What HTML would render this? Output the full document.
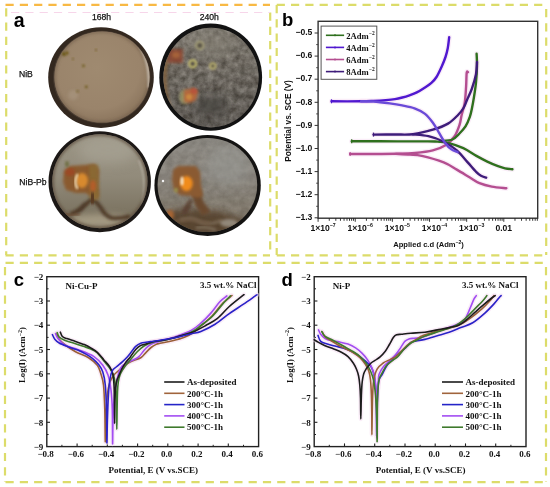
<!DOCTYPE html><html><head><meta charset="utf-8"><style>html,body{margin:0;padding:0;background:#fff;}svg{display:block;filter:blur(0.35px);}</style></head><body>
<svg width="550" height="487" viewBox="0 0 550 487">
<defs>
<filter id="blur1" x="-20%" y="-20%" width="140%" height="140%"><feGaussianBlur stdDeviation="1.2"/></filter>
<filter id="blur2" x="-30%" y="-30%" width="160%" height="160%"><feGaussianBlur stdDeviation="2.5"/></filter>
<filter id="blur05"><feGaussianBlur stdDeviation="0.45"/></filter>
<radialGradient id="g1" cx="50%" cy="45%" r="55%"><stop offset="0" stop-color="#9c8a70"/><stop offset="0.8" stop-color="#96826a"/><stop offset="1" stop-color="#7a6a56"/></radialGradient>
<radialGradient id="g2" cx="50%" cy="50%" r="55%"><stop offset="0" stop-color="#77716a"/><stop offset="0.8" stop-color="#6e6862"/><stop offset="1" stop-color="#55504a"/></radialGradient>
<radialGradient id="g3" cx="50%" cy="40%" r="55%"><stop offset="0" stop-color="#9a978c"/><stop offset="0.75" stop-color="#8e8a7e"/><stop offset="1" stop-color="#6e6a60"/></radialGradient>
<radialGradient id="g4" cx="55%" cy="40%" r="55%"><stop offset="0" stop-color="#9a9a94"/><stop offset="0.75" stop-color="#8a8a84"/><stop offset="1" stop-color="#6a6a64"/></radialGradient>
</defs>
<rect width="550" height="487" fill="#fff"/>
<line x1="5.5" y1="4.8" x2="270.0" y2="4.8" stroke="#f8b944" stroke-width="2.2" stroke-dasharray="8.2 6.1" stroke-dashoffset="0"/>
<line x1="6.2" y1="8.2" x2="6.2" y2="255.0" stroke="#dcdc6a" stroke-width="2.2" stroke-dasharray="8.2 6.1" stroke-dashoffset="0"/>
<line x1="270.2" y1="12.5" x2="270.2" y2="255.0" stroke="#dcdc6a" stroke-width="2.2" stroke-dasharray="8.2 6.1" stroke-dashoffset="0"/>
<line x1="5.5" y1="255.3" x2="270.0" y2="255.3" stroke="#dcdc6a" stroke-width="2.2" stroke-dasharray="8.2 6.1" stroke-dashoffset="0"/>
<line x1="276.7" y1="4.8" x2="546.0" y2="4.8" stroke="#dcdc6a" stroke-width="2.2" stroke-dasharray="8.2 6.1" stroke-dashoffset="0"/>
<line x1="276.7" y1="5.0" x2="276.7" y2="255.0" stroke="#dcdc6a" stroke-width="2.2" stroke-dasharray="8.2 6.1" stroke-dashoffset="0"/>
<line x1="546.2" y1="9.0" x2="546.2" y2="255.0" stroke="#dcdc6a" stroke-width="2.2" stroke-dasharray="8.2 6.1" stroke-dashoffset="0"/>
<line x1="276.7" y1="255.3" x2="546.0" y2="255.3" stroke="#dcdc6a" stroke-width="2.2" stroke-dasharray="8.2 6.1" stroke-dashoffset="0"/>
<line x1="5.5" y1="262.9" x2="546.0" y2="262.9" stroke="#dcdc6a" stroke-width="2.2" stroke-dasharray="8.2 6.1" stroke-dashoffset="0"/>
<line x1="5.0" y1="267.0" x2="5.0" y2="482.0" stroke="#dcdc6a" stroke-width="2.2" stroke-dasharray="8.2 6.1" stroke-dashoffset="0"/>
<line x1="546.0" y1="267.0" x2="546.0" y2="482.0" stroke="#dcdc6a" stroke-width="2.2" stroke-dasharray="8.2 6.1" stroke-dashoffset="0"/>
<line x1="5.5" y1="482.2" x2="546.0" y2="482.2" stroke="#dcdc6a" stroke-width="2.2" stroke-dasharray="8.2 6.1" stroke-dashoffset="0"/>
<line x1="11.0" y1="12.5" x2="270.0" y2="12.5" stroke="#f7d6ea" stroke-width="1.2" stroke-dasharray="8.2 6.1" stroke-dashoffset="0"/>
<text x="13.8" y="27.0" font-family='"Liberation Sans", sans-serif' font-size="19.50" font-weight="bold" text-anchor="start" fill="#000" >a</text>
<text x="101.5" y="20.4" font-family='"Liberation Sans", sans-serif' font-size="8.60" font-weight="normal" text-anchor="middle" fill="#111" stroke="#111" stroke-width="0.25">168h</text>
<text x="209.2" y="20.2" font-family='"Liberation Sans", sans-serif' font-size="8.60" font-weight="normal" text-anchor="middle" fill="#111" stroke="#111" stroke-width="0.25">240h</text>
<text x="19.0" y="76.7" font-family='"Liberation Sans", sans-serif' font-size="8.60" font-weight="normal" text-anchor="start" fill="#111" stroke="#111" stroke-width="0.25">NiB</text>
<text x="19.3" y="184.5" font-family='"Liberation Sans", sans-serif' font-size="8.60" font-weight="normal" text-anchor="start" fill="#111" stroke="#111" stroke-width="0.25">NiB-Pb</text>
<defs>
<clipPath id="cp1"><ellipse cx="102.0" cy="77.0" rx="47.6" ry="45.6"/></clipPath>
<clipPath id="cp2"><ellipse cx="211.0" cy="77.6" rx="47.6" ry="49.8"/></clipPath>
<clipPath id="cp3"><ellipse cx="99.9" cy="181.2" rx="47.6" ry="47.0"/></clipPath>
<clipPath id="cp4"><ellipse cx="207.4" cy="185.0" rx="49.8" ry="47.0"/></clipPath>
<filter id="noise2" x="0" y="0" width="100%" height="100%" color-interpolation-filters="sRGB"><feTurbulence type="fractalNoise" baseFrequency="0.15" numOctaves="4" seed="11" result="n"/><feColorMatrix in="n" type="matrix" values="0.75 0 0 0 0.07  0.75 0 0 0 0.05  0.75 0 0 0 0.03  0 0 0 0 1"/></filter>
<filter id="bl08" x="-50%" y="-50%" width="200%" height="200%"><feGaussianBlur stdDeviation="0.8"/></filter>
<filter id="bl15" x="-50%" y="-50%" width="200%" height="200%"><feGaussianBlur stdDeviation="1.5"/></filter>
<filter id="bl3" x="-50%" y="-50%" width="200%" height="200%"><feGaussianBlur stdDeviation="3"/></filter>
<filter id="bl6" x="-50%" y="-50%" width="200%" height="200%"><feGaussianBlur stdDeviation="6"/></filter>
<radialGradient id="pg1" cx="45%" cy="40%" r="60%"><stop offset="0" stop-color="#9f8a70"/><stop offset="0.75" stop-color="#9a846b"/><stop offset="1" stop-color="#8c765e"/></radialGradient>
<linearGradient id="pg2" x1="0" y1="0" x2="0.15" y2="1"><stop offset="0" stop-color="#827d71"/><stop offset="0.5" stop-color="#6c675d"/><stop offset="1" stop-color="#55514b"/></linearGradient>
<linearGradient id="pg3" x1="0" y1="0" x2="0" y2="1"><stop offset="0" stop-color="#9c9686"/><stop offset="0.45" stop-color="#928b7b"/><stop offset="0.8" stop-color="#7e7664"/><stop offset="1" stop-color="#6e6452"/></linearGradient>
<linearGradient id="pg4" x1="0" y1="0" x2="0" y2="1"><stop offset="0" stop-color="#8e8b84"/><stop offset="0.4" stop-color="#8c8880"/><stop offset="0.75" stop-color="#857d70"/><stop offset="1" stop-color="#6e6456"/></linearGradient>
</defs>
<ellipse cx="101.0" cy="77.6" rx="52.8" ry="50.3" fill="#33281f"/>
<ellipse cx="101.8" cy="77.2" rx="48.6" ry="46.4" fill="#4a3d32"/>
<ellipse cx="102.0" cy="77.0" rx="47.6" ry="45.6" fill="url(#pg1)"/>
<g clip-path="url(#cp1)">
<ellipse cx="102.0" cy="77.0" rx="47.6" ry="45.6" fill="none" stroke="#6e5c48" stroke-width="2.5" filter="url(#bl15)" opacity="0.7"/>
<path d="M137,42 Q150,58 149,88" stroke="#d8d0c4" stroke-width="2.4" fill="none" filter="url(#bl08)" opacity="0.85"/>
<ellipse cx="73.2" cy="95" rx="5" ry="5" fill="#aa9882" filter="url(#bl15)" opacity="0.6"/>
<circle cx="64" cy="54" r="2.2" fill="#6e5a1e" filter="url(#bl08)"/>
<circle cx="67" cy="53" r="1.8" fill="#6e5a1e" filter="url(#bl08)"/>
<circle cx="83.4" cy="65.8" r="1.4" fill="#6e5a1e" filter="url(#bl08)"/>
<circle cx="86.3" cy="86.9" r="1.4" fill="#6e5a1e" filter="url(#bl08)"/>
<circle cx="96" cy="50" r="1" fill="#6e5a1e" filter="url(#bl08)"/>
<circle cx="77.5" cy="91.3" r="1.1" fill="#6e5a1e" filter="url(#bl08)"/>
<circle cx="73" cy="59" r="0.9" fill="#6e5a1e" filter="url(#bl08)"/>
</g>
<ellipse cx="210.7" cy="77.2" rx="51.4" ry="53.6" fill="#121212"/>
<ellipse cx="211.0" cy="77.6" rx="47.6" ry="49.8" fill="url(#pg2)"/>
<g clip-path="url(#cp2)">
<rect x="160" y="26" width="104" height="104" filter="url(#noise2)" opacity="0.45"/>
<path d="M167,58 Q160,85 171,113" stroke="#7e5e3a" stroke-width="4.5" fill="none" filter="url(#bl15)" opacity="0.9"/>
<ellipse cx="210" cy="106" rx="17" ry="11" fill="#47443f" filter="url(#bl6)" opacity="0.8"/>
<ellipse cx="212" cy="44" rx="24" ry="11" fill="#8c877c" filter="url(#bl6)" opacity="0.6"/>
<rect x="168" y="49" width="15" height="14" fill="#8a4630" filter="url(#bl15)" opacity="0.9"/>
<ellipse cx="176" cy="55" rx="4" ry="3" fill="#b06a3a" filter="url(#bl15)" opacity="0.8"/>
<circle cx="192.7" cy="63.8" r="3.6" fill="#5e584c" stroke="#c8c070" stroke-width="1.8" filter="url(#bl08)"/>
<circle cx="199.8" cy="45.5" r="3.8" fill="#5e584c" stroke="#a8a27a" stroke-width="1.8" filter="url(#bl08)"/>
<circle cx="212.8" cy="66" r="2.8" fill="#5e584c" stroke="#bab070" stroke-width="1.8" filter="url(#bl08)"/>
<ellipse cx="184.5" cy="97" rx="5" ry="7" fill="#9c9a62" filter="url(#bl15)" opacity="0.8"/>
<path d="M184,90 L194,88 L198,92 L196,100 L190,103 L184,102 Z" fill="#b4683c" filter="url(#bl15)"/>
<ellipse cx="194" cy="91" rx="3.5" ry="2.8" fill="#b8503a" filter="url(#bl08)" opacity="0.8"/>
<ellipse cx="189" cy="97" rx="3" ry="3" fill="#d09040" filter="url(#bl08)" opacity="0.8"/>
</g>
<ellipse cx="99.7" cy="181.7" rx="51.2" ry="50.5" fill="#1c1816"/>
<ellipse cx="99.9" cy="181.2" rx="47.6" ry="47.0" fill="url(#pg3)"/>
<g clip-path="url(#cp3)">
<ellipse cx="108" cy="150" rx="30" ry="14" fill="#aaa698" filter="url(#bl6)" opacity="0.6"/>
<path d="M139,160 Q148,180 142,205" stroke="#d0cabe" stroke-width="1.8" fill="none" filter="url(#bl08)" opacity="0.6"/>
<ellipse cx="100" cy="221" rx="40" ry="7" fill="#aea48c" filter="url(#bl3)" opacity="0.8"/>
<ellipse cx="99.9" cy="181.2" rx="47.6" ry="47.0" fill="none" stroke="#5a4a3a" stroke-width="3" filter="url(#bl15)" opacity="0.8"/>
<path d="M70,214 Q76,212 80,210 Q86,204 92,199 Q98,203 101,208 Q105,216 112,218 Q120,219 130,216" stroke="#4a3424" stroke-width="4" fill="none" filter="url(#bl15)" opacity="0.9"/>
<path d="M62,214 Q70,216 80,214" stroke="#6a4a30" stroke-width="3" fill="none" filter="url(#bl15)" opacity="0.7"/>
<path d="M64,171 L70,166 L84,165 L95,164 L99,170 L98,185 L99,195 L96,199 L90,196 L86,193 L76,193 L66,190 L63,182 Z" fill="#8a5a2e" filter="url(#bl15)"/>
<ellipse cx="70" cy="172" rx="5" ry="4" fill="#a04424" filter="url(#bl15)" opacity="0.8"/>
<path d="M89,165 L98,165 L99,200 L90,199 Z" fill="#8a6a34" filter="url(#bl15)" opacity="0.9"/>
<ellipse cx="93" cy="186" rx="3" ry="6" fill="#c05a28" filter="url(#bl15)" opacity="0.8"/>
<ellipse cx="82" cy="180.5" rx="6" ry="7.5" fill="#d88a2e" filter="url(#bl15)"/>
<path d="M77.5,174 Q73.5,182 77.5,189" stroke="#f2dcb4" stroke-width="2.2" fill="none" filter="url(#bl08)"/>
<ellipse cx="67" cy="164" rx="2" ry="3" fill="#6a6a3a" filter="url(#bl08)" opacity="0.8"/>
<path d="M93,193 Q92,199 92,204" stroke="#5a3a22" stroke-width="7" fill="none" filter="url(#bl15)"/>
<path d="M86,203 Q80,208 76,212" stroke="#4a3424" stroke-width="3" fill="none" filter="url(#bl15)" opacity="0.6"/>
</g>
<ellipse cx="207.6" cy="185.4" rx="53.2" ry="50.5" fill="#141312"/>
<ellipse cx="207.4" cy="185.0" rx="49.8" ry="47.0" fill="url(#pg4)"/>
<g clip-path="url(#cp4)">
<rect x="156" y="136" width="104" height="100" filter="url(#noise2)" opacity="0.15"/>
<ellipse cx="228" cy="165" rx="22" ry="20" fill="#9c9e9a" filter="url(#bl6)" opacity="0.5"/>
<path d="M164,214 Q176,207 188,211 Q198,206 206,212 Q216,208 226,214 Q236,216 246,222 L240,236 L166,236 Z" fill="#54402c" filter="url(#bl3)" opacity="0.85"/>
<path d="M180,220 Q192,216 200,222 Q210,226 222,220" stroke="#8a7a66" stroke-width="3" fill="none" filter="url(#bl15)" opacity="0.7"/>
<path d="M196,228 Q206,226 216,230" stroke="#9a8e7c" stroke-width="2.5" fill="none" filter="url(#bl15)" opacity="0.6"/>
<path d="M172,222 Q190,217 210,224" stroke="#6e5640" stroke-width="3" fill="none" filter="url(#bl15)" opacity="0.8"/>
<ellipse cx="170" cy="215" rx="4" ry="5" fill="#b86a30" filter="url(#bl15)" opacity="0.8"/>
<ellipse cx="229" cy="223" rx="9" ry="4" fill="#aaa49a" filter="url(#bl15)" opacity="0.7"/>
<path d="M196,190 Q197,200 201,206 Q205,211 206,214" stroke="#6a4a2e" stroke-width="9" fill="none" filter="url(#bl15)"/>
<path d="M192,200 Q186,206 184,213" stroke="#5a4030" stroke-width="5" fill="none" filter="url(#bl15)" opacity="0.8"/>
<path d="M190,205 Q186,210 184,214" stroke="#5a4030" stroke-width="4" fill="none" filter="url(#bl15)" opacity="0.8"/>
<path d="M173,170 L178,166 L196,166 L200,172 L201,185 L203,196 L198,198 L190,196 L180,195 L174,190 L172,180 Z" fill="#8a5a30" filter="url(#bl15)"/>
<ellipse cx="186.5" cy="183.5" rx="6.2" ry="7.5" fill="#f08c1e" filter="url(#bl15)"/>
<ellipse cx="182" cy="181" rx="1.5" ry="4.5" fill="#f6e8d0" filter="url(#bl08)"/>
<ellipse cx="176" cy="190" rx="2" ry="2.5" fill="#9a9a50" filter="url(#bl08)" opacity="0.8"/>
<circle cx="163" cy="181" r="1.2" fill="#f4f4f4"/>
</g>
<text x="282.0" y="26.0" font-family='"Liberation Sans", sans-serif' font-size="18.50" font-weight="bold" text-anchor="start" fill="#000" >b</text>
<rect x="318.10" y="21.30" width="219.60" height="196.90" fill="none" stroke="#333" stroke-width="1.40"/>
<line x1="314.6" y1="33.0" x2="318.1" y2="33.0" stroke="#333" stroke-width="1"/>
<line x1="316.1" y1="44.6" x2="318.1" y2="44.6" stroke="#333" stroke-width="0.8"/>
<text x="312.4" y="35.2" font-family='"Liberation Sans", sans-serif' font-size="8.60" font-weight="bold" text-anchor="end" fill="#111" >&#8722;0.5</text>
<line x1="314.6" y1="56.1" x2="318.1" y2="56.1" stroke="#333" stroke-width="1"/>
<line x1="316.1" y1="67.7" x2="318.1" y2="67.7" stroke="#333" stroke-width="0.8"/>
<text x="312.4" y="58.3" font-family='"Liberation Sans", sans-serif' font-size="8.60" font-weight="bold" text-anchor="end" fill="#111" >&#8722;0.6</text>
<line x1="314.6" y1="79.2" x2="318.1" y2="79.2" stroke="#333" stroke-width="1"/>
<line x1="316.1" y1="90.8" x2="318.1" y2="90.8" stroke="#333" stroke-width="0.8"/>
<text x="312.4" y="81.4" font-family='"Liberation Sans", sans-serif' font-size="8.60" font-weight="bold" text-anchor="end" fill="#111" >&#8722;0.7</text>
<line x1="314.6" y1="102.3" x2="318.1" y2="102.3" stroke="#333" stroke-width="1"/>
<line x1="316.1" y1="113.9" x2="318.1" y2="113.9" stroke="#333" stroke-width="0.8"/>
<text x="312.4" y="104.5" font-family='"Liberation Sans", sans-serif' font-size="8.60" font-weight="bold" text-anchor="end" fill="#111" >&#8722;0.8</text>
<line x1="314.6" y1="125.4" x2="318.1" y2="125.4" stroke="#333" stroke-width="1"/>
<line x1="316.1" y1="136.9" x2="318.1" y2="136.9" stroke="#333" stroke-width="0.8"/>
<text x="312.4" y="127.6" font-family='"Liberation Sans", sans-serif' font-size="8.60" font-weight="bold" text-anchor="end" fill="#111" >&#8722;0.9</text>
<line x1="314.6" y1="148.5" x2="318.1" y2="148.5" stroke="#333" stroke-width="1"/>
<line x1="316.1" y1="160.1" x2="318.1" y2="160.1" stroke="#333" stroke-width="0.8"/>
<text x="312.4" y="150.7" font-family='"Liberation Sans", sans-serif' font-size="8.60" font-weight="bold" text-anchor="end" fill="#111" >&#8722;1.0</text>
<line x1="314.6" y1="171.6" x2="318.1" y2="171.6" stroke="#333" stroke-width="1"/>
<line x1="316.1" y1="183.2" x2="318.1" y2="183.2" stroke="#333" stroke-width="0.8"/>
<text x="312.4" y="173.8" font-family='"Liberation Sans", sans-serif' font-size="8.60" font-weight="bold" text-anchor="end" fill="#111" >&#8722;1.1</text>
<line x1="314.6" y1="194.7" x2="318.1" y2="194.7" stroke="#333" stroke-width="1"/>
<line x1="316.1" y1="206.3" x2="318.1" y2="206.3" stroke="#333" stroke-width="0.8"/>
<text x="312.4" y="196.9" font-family='"Liberation Sans", sans-serif' font-size="8.60" font-weight="bold" text-anchor="end" fill="#111" >&#8722;1.2</text>
<line x1="314.6" y1="217.8" x2="318.1" y2="217.8" stroke="#333" stroke-width="1"/>
<text x="312.4" y="220.0" font-family='"Liberation Sans", sans-serif' font-size="8.60" font-weight="bold" text-anchor="end" fill="#111" >&#8722;1.3</text>
<line x1="318.10" y1="218.2" x2="318.10" y2="221.8" stroke="#222" stroke-width="0.9"/>
<line x1="329.28" y1="218.2" x2="329.28" y2="220.8" stroke="#222" stroke-width="0.9"/>
<line x1="335.82" y1="218.2" x2="335.82" y2="220.8" stroke="#222" stroke-width="0.9"/>
<line x1="340.46" y1="218.2" x2="340.46" y2="220.8" stroke="#222" stroke-width="0.9"/>
<line x1="344.06" y1="218.2" x2="344.06" y2="220.8" stroke="#222" stroke-width="0.9"/>
<line x1="347.00" y1="218.2" x2="347.00" y2="220.8" stroke="#222" stroke-width="0.9"/>
<line x1="349.49" y1="218.2" x2="349.49" y2="220.8" stroke="#222" stroke-width="0.9"/>
<line x1="351.64" y1="218.2" x2="351.64" y2="220.8" stroke="#222" stroke-width="0.9"/>
<line x1="353.54" y1="218.2" x2="353.54" y2="220.8" stroke="#222" stroke-width="0.9"/>
<line x1="355.24" y1="218.2" x2="355.24" y2="221.8" stroke="#222" stroke-width="0.9"/>
<line x1="366.42" y1="218.2" x2="366.42" y2="220.8" stroke="#222" stroke-width="0.9"/>
<line x1="372.96" y1="218.2" x2="372.96" y2="220.8" stroke="#222" stroke-width="0.9"/>
<line x1="377.60" y1="218.2" x2="377.60" y2="220.8" stroke="#222" stroke-width="0.9"/>
<line x1="381.20" y1="218.2" x2="381.20" y2="220.8" stroke="#222" stroke-width="0.9"/>
<line x1="384.14" y1="218.2" x2="384.14" y2="220.8" stroke="#222" stroke-width="0.9"/>
<line x1="386.63" y1="218.2" x2="386.63" y2="220.8" stroke="#222" stroke-width="0.9"/>
<line x1="388.78" y1="218.2" x2="388.78" y2="220.8" stroke="#222" stroke-width="0.9"/>
<line x1="390.68" y1="218.2" x2="390.68" y2="220.8" stroke="#222" stroke-width="0.9"/>
<line x1="392.38" y1="218.2" x2="392.38" y2="221.8" stroke="#222" stroke-width="0.9"/>
<line x1="403.56" y1="218.2" x2="403.56" y2="220.8" stroke="#222" stroke-width="0.9"/>
<line x1="410.10" y1="218.2" x2="410.10" y2="220.8" stroke="#222" stroke-width="0.9"/>
<line x1="414.74" y1="218.2" x2="414.74" y2="220.8" stroke="#222" stroke-width="0.9"/>
<line x1="418.34" y1="218.2" x2="418.34" y2="220.8" stroke="#222" stroke-width="0.9"/>
<line x1="421.28" y1="218.2" x2="421.28" y2="220.8" stroke="#222" stroke-width="0.9"/>
<line x1="423.77" y1="218.2" x2="423.77" y2="220.8" stroke="#222" stroke-width="0.9"/>
<line x1="425.92" y1="218.2" x2="425.92" y2="220.8" stroke="#222" stroke-width="0.9"/>
<line x1="427.82" y1="218.2" x2="427.82" y2="220.8" stroke="#222" stroke-width="0.9"/>
<line x1="429.52" y1="218.2" x2="429.52" y2="221.8" stroke="#222" stroke-width="0.9"/>
<line x1="440.70" y1="218.2" x2="440.70" y2="220.8" stroke="#222" stroke-width="0.9"/>
<line x1="447.24" y1="218.2" x2="447.24" y2="220.8" stroke="#222" stroke-width="0.9"/>
<line x1="451.88" y1="218.2" x2="451.88" y2="220.8" stroke="#222" stroke-width="0.9"/>
<line x1="455.48" y1="218.2" x2="455.48" y2="220.8" stroke="#222" stroke-width="0.9"/>
<line x1="458.42" y1="218.2" x2="458.42" y2="220.8" stroke="#222" stroke-width="0.9"/>
<line x1="460.91" y1="218.2" x2="460.91" y2="220.8" stroke="#222" stroke-width="0.9"/>
<line x1="463.06" y1="218.2" x2="463.06" y2="220.8" stroke="#222" stroke-width="0.9"/>
<line x1="464.96" y1="218.2" x2="464.96" y2="220.8" stroke="#222" stroke-width="0.9"/>
<line x1="466.66" y1="218.2" x2="466.66" y2="221.8" stroke="#222" stroke-width="0.9"/>
<line x1="477.84" y1="218.2" x2="477.84" y2="220.8" stroke="#222" stroke-width="0.9"/>
<line x1="484.38" y1="218.2" x2="484.38" y2="220.8" stroke="#222" stroke-width="0.9"/>
<line x1="489.02" y1="218.2" x2="489.02" y2="220.8" stroke="#222" stroke-width="0.9"/>
<line x1="492.62" y1="218.2" x2="492.62" y2="220.8" stroke="#222" stroke-width="0.9"/>
<line x1="495.56" y1="218.2" x2="495.56" y2="220.8" stroke="#222" stroke-width="0.9"/>
<line x1="498.05" y1="218.2" x2="498.05" y2="220.8" stroke="#222" stroke-width="0.9"/>
<line x1="500.20" y1="218.2" x2="500.20" y2="220.8" stroke="#222" stroke-width="0.9"/>
<line x1="502.10" y1="218.2" x2="502.10" y2="220.8" stroke="#222" stroke-width="0.9"/>
<line x1="503.80" y1="218.2" x2="503.80" y2="221.8" stroke="#222" stroke-width="0.9"/>
<line x1="514.98" y1="218.2" x2="514.98" y2="220.8" stroke="#222" stroke-width="0.9"/>
<line x1="521.52" y1="218.2" x2="521.52" y2="220.8" stroke="#222" stroke-width="0.9"/>
<line x1="526.16" y1="218.2" x2="526.16" y2="220.8" stroke="#222" stroke-width="0.9"/>
<line x1="529.76" y1="218.2" x2="529.76" y2="220.8" stroke="#222" stroke-width="0.9"/>
<line x1="532.70" y1="218.2" x2="532.70" y2="220.8" stroke="#222" stroke-width="0.9"/>
<line x1="535.19" y1="218.2" x2="535.19" y2="220.8" stroke="#222" stroke-width="0.9"/>
<line x1="537.34" y1="218.2" x2="537.34" y2="220.8" stroke="#222" stroke-width="0.9"/>
<text x="310.4" y="230.8" font-family='"Liberation Sans", sans-serif' font-size="8.6" font-weight="bold" fill="#111">1&#215;10<tspan dy="-3.6" font-size="5.2">&#8722;7</tspan></text>
<text x="347.5" y="230.8" font-family='"Liberation Sans", sans-serif' font-size="8.6" font-weight="bold" fill="#111">1&#215;10<tspan dy="-3.6" font-size="5.2">&#8722;6</tspan></text>
<text x="384.7" y="230.8" font-family='"Liberation Sans", sans-serif' font-size="8.6" font-weight="bold" fill="#111">1&#215;10<tspan dy="-3.6" font-size="5.2">&#8722;5</tspan></text>
<text x="421.8" y="230.8" font-family='"Liberation Sans", sans-serif' font-size="8.6" font-weight="bold" fill="#111">1&#215;10<tspan dy="-3.6" font-size="5.2">&#8722;4</tspan></text>
<text x="459.0" y="230.8" font-family='"Liberation Sans", sans-serif' font-size="8.6" font-weight="bold" fill="#111">1&#215;10<tspan dy="-3.6" font-size="5.2">&#8722;3</tspan></text>
<text x="503.8" y="230.6" font-family='"Liberation Sans", sans-serif' font-size="8.60" font-weight="bold" text-anchor="middle" fill="#111" >0.01</text>
<text x="393.2" y="246.8" font-family='"Liberation Sans", sans-serif' font-size="7.6" font-weight="bold" fill="#111">Applied c.d (Adm<tspan dy="-3.3" font-size="5">&#8722;2</tspan><tspan dy="3.3">)</tspan></text>
<text transform="translate(291.3,121) rotate(-90)" font-family='"Liberation Sans", sans-serif' font-size="8.3" font-weight="bold" text-anchor="middle" fill="#111">Potential vs. SCE (V)</text>
<rect x="46.80" y="276.70" width="211.80" height="169.90" fill="none" stroke="#222" stroke-width="1.40"/>
<line x1="46.8" y1="288.8" x2="48.6" y2="288.8" stroke="#222" stroke-width="1"/>
<text x="43.3" y="279.9" font-family='"Liberation Serif", serif' font-size="9.00" font-weight="bold" text-anchor="end" fill="#111" >&#8722;2</text>
<line x1="46.8" y1="301.0" x2="50.0" y2="301.0" stroke="#222" stroke-width="1.1"/>
<line x1="46.8" y1="313.1" x2="48.6" y2="313.1" stroke="#222" stroke-width="1"/>
<text x="43.3" y="304.2" font-family='"Liberation Serif", serif' font-size="9.00" font-weight="bold" text-anchor="end" fill="#111" >&#8722;3</text>
<line x1="46.8" y1="325.2" x2="50.0" y2="325.2" stroke="#222" stroke-width="1.1"/>
<line x1="46.8" y1="337.4" x2="48.6" y2="337.4" stroke="#222" stroke-width="1"/>
<text x="43.3" y="328.4" font-family='"Liberation Serif", serif' font-size="9.00" font-weight="bold" text-anchor="end" fill="#111" >&#8722;4</text>
<line x1="46.8" y1="349.5" x2="50.0" y2="349.5" stroke="#222" stroke-width="1.1"/>
<line x1="46.8" y1="361.7" x2="48.6" y2="361.7" stroke="#222" stroke-width="1"/>
<text x="43.3" y="352.7" font-family='"Liberation Serif", serif' font-size="9.00" font-weight="bold" text-anchor="end" fill="#111" >&#8722;5</text>
<line x1="46.8" y1="373.8" x2="50.0" y2="373.8" stroke="#222" stroke-width="1.1"/>
<line x1="46.8" y1="385.9" x2="48.6" y2="385.9" stroke="#222" stroke-width="1"/>
<text x="43.3" y="377.0" font-family='"Liberation Serif", serif' font-size="9.00" font-weight="bold" text-anchor="end" fill="#111" >&#8722;6</text>
<line x1="46.8" y1="398.1" x2="50.0" y2="398.1" stroke="#222" stroke-width="1.1"/>
<line x1="46.8" y1="410.2" x2="48.6" y2="410.2" stroke="#222" stroke-width="1"/>
<text x="43.3" y="401.3" font-family='"Liberation Serif", serif' font-size="9.00" font-weight="bold" text-anchor="end" fill="#111" >&#8722;7</text>
<line x1="46.8" y1="422.3" x2="50.0" y2="422.3" stroke="#222" stroke-width="1.1"/>
<line x1="46.8" y1="434.5" x2="48.6" y2="434.5" stroke="#222" stroke-width="1"/>
<text x="43.3" y="425.5" font-family='"Liberation Serif", serif' font-size="9.00" font-weight="bold" text-anchor="end" fill="#111" >&#8722;8</text>
<text x="43.3" y="449.8" font-family='"Liberation Serif", serif' font-size="9.00" font-weight="bold" text-anchor="end" fill="#111" >&#8722;9</text>
<line x1="61.9" y1="446.6" x2="61.9" y2="444.8" stroke="#222" stroke-width="1"/>
<text x="45.6" y="457.0" font-family='"Liberation Serif", serif' font-size="9.00" font-weight="bold" text-anchor="middle" fill="#111" >&#8722;0.8</text>
<line x1="77.1" y1="446.6" x2="77.1" y2="443.4" stroke="#222" stroke-width="1.1"/>
<line x1="92.2" y1="446.6" x2="92.2" y2="444.8" stroke="#222" stroke-width="1"/>
<text x="75.9" y="457.0" font-family='"Liberation Serif", serif' font-size="9.00" font-weight="bold" text-anchor="middle" fill="#111" >&#8722;0.6</text>
<line x1="107.3" y1="446.6" x2="107.3" y2="443.4" stroke="#222" stroke-width="1.1"/>
<line x1="122.4" y1="446.6" x2="122.4" y2="444.8" stroke="#222" stroke-width="1"/>
<text x="106.1" y="457.0" font-family='"Liberation Serif", serif' font-size="9.00" font-weight="bold" text-anchor="middle" fill="#111" >&#8722;0.4</text>
<line x1="137.6" y1="446.6" x2="137.6" y2="443.4" stroke="#222" stroke-width="1.1"/>
<line x1="152.7" y1="446.6" x2="152.7" y2="444.8" stroke="#222" stroke-width="1"/>
<text x="136.4" y="457.0" font-family='"Liberation Serif", serif' font-size="9.00" font-weight="bold" text-anchor="middle" fill="#111" >&#8722;0.2</text>
<line x1="167.8" y1="446.6" x2="167.8" y2="443.4" stroke="#222" stroke-width="1.1"/>
<line x1="183.0" y1="446.6" x2="183.0" y2="444.8" stroke="#222" stroke-width="1"/>
<text x="166.6" y="457.0" font-family='"Liberation Serif", serif' font-size="9.00" font-weight="bold" text-anchor="middle" fill="#111" >0.0</text>
<line x1="198.1" y1="446.6" x2="198.1" y2="443.4" stroke="#222" stroke-width="1.1"/>
<line x1="213.2" y1="446.6" x2="213.2" y2="444.8" stroke="#222" stroke-width="1"/>
<text x="196.9" y="457.0" font-family='"Liberation Serif", serif' font-size="9.00" font-weight="bold" text-anchor="middle" fill="#111" >0.2</text>
<line x1="228.3" y1="446.6" x2="228.3" y2="443.4" stroke="#222" stroke-width="1.1"/>
<line x1="243.5" y1="446.6" x2="243.5" y2="444.8" stroke="#222" stroke-width="1"/>
<text x="227.1" y="457.0" font-family='"Liberation Serif", serif' font-size="9.00" font-weight="bold" text-anchor="middle" fill="#111" >0.4</text>
<text x="257.4" y="457.0" font-family='"Liberation Serif", serif' font-size="9.00" font-weight="bold" text-anchor="middle" fill="#111" >0.6</text>
<text x="153.2" y="472.5" font-family='"Liberation Serif", serif' font-size="9.00" font-weight="bold" text-anchor="middle" fill="#111" >Potential, E (V vs.SCE)</text>
<text transform="translate(25.2,355) rotate(-90)" font-family='"Liberation Serif", serif' font-size="8.8" font-weight="bold" text-anchor="middle" fill="#111">Log(I) (Acm<tspan dy="-3.3" font-size="6">&#8722;2</tspan><tspan dy="3.3">)</tspan></text>
<text x="13.8" y="285.6" font-family='"Liberation Sans", sans-serif' font-size="18.50" font-weight="bold" text-anchor="start" fill="#000" >c</text>
<text x="65.5" y="289.0" font-family='"Liberation Serif", serif' font-size="9.00" font-weight="bold" text-anchor="start" fill="#111" >Ni-Cu-P</text>
<text x="256.6" y="287.7" font-family='"Liberation Serif", serif' font-size="9.00" font-weight="bold" text-anchor="end" fill="#111" >3.5 wt.% NaCl</text>
<line x1="164.2" y1="382.0" x2="184.5" y2="382.0" stroke="#1c1c1c" stroke-width="1.6"/>
<text x="187.0" y="385.2" font-family='"Liberation Serif", serif' font-size="9.00" font-weight="bold" text-anchor="start" fill="#111" >As-deposited</text>
<line x1="164.2" y1="393.3" x2="184.5" y2="393.3" stroke="#a0643c" stroke-width="1.6"/>
<text x="187.0" y="396.5" font-family='"Liberation Serif", serif' font-size="9.00" font-weight="bold" text-anchor="start" fill="#111" >200&#176;C-1h</text>
<line x1="164.2" y1="404.6" x2="184.5" y2="404.6" stroke="#2424c8" stroke-width="1.6"/>
<text x="187.0" y="407.8" font-family='"Liberation Serif", serif' font-size="9.00" font-weight="bold" text-anchor="start" fill="#111" >300&#176;C-1h</text>
<line x1="164.2" y1="415.9" x2="184.5" y2="415.9" stroke="#a24cf2" stroke-width="1.6"/>
<text x="187.0" y="419.1" font-family='"Liberation Serif", serif' font-size="9.00" font-weight="bold" text-anchor="start" fill="#111" >400&#176;C-1h</text>
<line x1="164.2" y1="427.2" x2="184.5" y2="427.2" stroke="#3e7a2c" stroke-width="1.6"/>
<text x="187.0" y="430.4" font-family='"Liberation Serif", serif' font-size="9.00" font-weight="bold" text-anchor="start" fill="#111" >500&#176;C-1h</text>
<rect x="314.20" y="276.70" width="211.80" height="169.90" fill="none" stroke="#222" stroke-width="1.40"/>
<line x1="314.2" y1="288.8" x2="316.0" y2="288.8" stroke="#222" stroke-width="1"/>
<text x="310.7" y="279.9" font-family='"Liberation Serif", serif' font-size="9.00" font-weight="bold" text-anchor="end" fill="#111" >&#8722;2</text>
<line x1="314.2" y1="301.0" x2="317.4" y2="301.0" stroke="#222" stroke-width="1.1"/>
<line x1="314.2" y1="313.1" x2="316.0" y2="313.1" stroke="#222" stroke-width="1"/>
<text x="310.7" y="304.2" font-family='"Liberation Serif", serif' font-size="9.00" font-weight="bold" text-anchor="end" fill="#111" >&#8722;3</text>
<line x1="314.2" y1="325.2" x2="317.4" y2="325.2" stroke="#222" stroke-width="1.1"/>
<line x1="314.2" y1="337.4" x2="316.0" y2="337.4" stroke="#222" stroke-width="1"/>
<text x="310.7" y="328.4" font-family='"Liberation Serif", serif' font-size="9.00" font-weight="bold" text-anchor="end" fill="#111" >&#8722;4</text>
<line x1="314.2" y1="349.5" x2="317.4" y2="349.5" stroke="#222" stroke-width="1.1"/>
<line x1="314.2" y1="361.7" x2="316.0" y2="361.7" stroke="#222" stroke-width="1"/>
<text x="310.7" y="352.7" font-family='"Liberation Serif", serif' font-size="9.00" font-weight="bold" text-anchor="end" fill="#111" >&#8722;5</text>
<line x1="314.2" y1="373.8" x2="317.4" y2="373.8" stroke="#222" stroke-width="1.1"/>
<line x1="314.2" y1="385.9" x2="316.0" y2="385.9" stroke="#222" stroke-width="1"/>
<text x="310.7" y="377.0" font-family='"Liberation Serif", serif' font-size="9.00" font-weight="bold" text-anchor="end" fill="#111" >&#8722;6</text>
<line x1="314.2" y1="398.1" x2="317.4" y2="398.1" stroke="#222" stroke-width="1.1"/>
<line x1="314.2" y1="410.2" x2="316.0" y2="410.2" stroke="#222" stroke-width="1"/>
<text x="310.7" y="401.3" font-family='"Liberation Serif", serif' font-size="9.00" font-weight="bold" text-anchor="end" fill="#111" >&#8722;7</text>
<line x1="314.2" y1="422.3" x2="317.4" y2="422.3" stroke="#222" stroke-width="1.1"/>
<line x1="314.2" y1="434.5" x2="316.0" y2="434.5" stroke="#222" stroke-width="1"/>
<text x="310.7" y="425.5" font-family='"Liberation Serif", serif' font-size="9.00" font-weight="bold" text-anchor="end" fill="#111" >&#8722;8</text>
<text x="310.7" y="449.8" font-family='"Liberation Serif", serif' font-size="9.00" font-weight="bold" text-anchor="end" fill="#111" >&#8722;9</text>
<line x1="329.3" y1="446.6" x2="329.3" y2="444.8" stroke="#222" stroke-width="1"/>
<text x="313.0" y="457.0" font-family='"Liberation Serif", serif' font-size="9.00" font-weight="bold" text-anchor="middle" fill="#111" >&#8722;0.8</text>
<line x1="344.5" y1="446.6" x2="344.5" y2="443.4" stroke="#222" stroke-width="1.1"/>
<line x1="359.6" y1="446.6" x2="359.6" y2="444.8" stroke="#222" stroke-width="1"/>
<text x="343.3" y="457.0" font-family='"Liberation Serif", serif' font-size="9.00" font-weight="bold" text-anchor="middle" fill="#111" >&#8722;0.6</text>
<line x1="374.7" y1="446.6" x2="374.7" y2="443.4" stroke="#222" stroke-width="1.1"/>
<line x1="389.8" y1="446.6" x2="389.8" y2="444.8" stroke="#222" stroke-width="1"/>
<text x="373.5" y="457.0" font-family='"Liberation Serif", serif' font-size="9.00" font-weight="bold" text-anchor="middle" fill="#111" >&#8722;0.4</text>
<line x1="405.0" y1="446.6" x2="405.0" y2="443.4" stroke="#222" stroke-width="1.1"/>
<line x1="420.1" y1="446.6" x2="420.1" y2="444.8" stroke="#222" stroke-width="1"/>
<text x="403.8" y="457.0" font-family='"Liberation Serif", serif' font-size="9.00" font-weight="bold" text-anchor="middle" fill="#111" >&#8722;0.2</text>
<line x1="435.2" y1="446.6" x2="435.2" y2="443.4" stroke="#222" stroke-width="1.1"/>
<line x1="450.4" y1="446.6" x2="450.4" y2="444.8" stroke="#222" stroke-width="1"/>
<text x="434.0" y="457.0" font-family='"Liberation Serif", serif' font-size="9.00" font-weight="bold" text-anchor="middle" fill="#111" >0.0</text>
<line x1="465.5" y1="446.6" x2="465.5" y2="443.4" stroke="#222" stroke-width="1.1"/>
<line x1="480.6" y1="446.6" x2="480.6" y2="444.8" stroke="#222" stroke-width="1"/>
<text x="464.3" y="457.0" font-family='"Liberation Serif", serif' font-size="9.00" font-weight="bold" text-anchor="middle" fill="#111" >0.2</text>
<line x1="495.7" y1="446.6" x2="495.7" y2="443.4" stroke="#222" stroke-width="1.1"/>
<line x1="510.9" y1="446.6" x2="510.9" y2="444.8" stroke="#222" stroke-width="1"/>
<text x="494.5" y="457.0" font-family='"Liberation Serif", serif' font-size="9.00" font-weight="bold" text-anchor="middle" fill="#111" >0.4</text>
<text x="524.8" y="457.0" font-family='"Liberation Serif", serif' font-size="9.00" font-weight="bold" text-anchor="middle" fill="#111" >0.6</text>
<text x="420.6" y="472.5" font-family='"Liberation Serif", serif' font-size="9.00" font-weight="bold" text-anchor="middle" fill="#111" >Potential, E (V vs.SCE)</text>
<text transform="translate(292.6,355) rotate(-90)" font-family='"Liberation Serif", serif' font-size="8.8" font-weight="bold" text-anchor="middle" fill="#111">Log(I) (Acm<tspan dy="-3.3" font-size="6">&#8722;2</tspan><tspan dy="3.3">)</tspan></text>
<text x="281.5" y="285.6" font-family='"Liberation Sans", sans-serif' font-size="18.50" font-weight="bold" text-anchor="start" fill="#000" >d</text>
<text x="332.7" y="289.0" font-family='"Liberation Serif", serif' font-size="9.00" font-weight="bold" text-anchor="start" fill="#111" >Ni-P</text>
<text x="518.6" y="287.7" font-family='"Liberation Serif", serif' font-size="9.00" font-weight="bold" text-anchor="end" fill="#111" >3.5 wt.% NaCl</text>
<line x1="442.0" y1="382.0" x2="463.0" y2="382.0" stroke="#1c1c1c" stroke-width="1.6"/>
<text x="465.5" y="385.2" font-family='"Liberation Serif", serif' font-size="9.00" font-weight="bold" text-anchor="start" fill="#111" >As-deposited</text>
<line x1="442.0" y1="393.3" x2="463.0" y2="393.3" stroke="#a0643c" stroke-width="1.6"/>
<text x="465.5" y="396.5" font-family='"Liberation Serif", serif' font-size="9.00" font-weight="bold" text-anchor="start" fill="#111" >200&#176;C-1h</text>
<line x1="442.0" y1="404.6" x2="463.0" y2="404.6" stroke="#2424c8" stroke-width="1.6"/>
<text x="465.5" y="407.8" font-family='"Liberation Serif", serif' font-size="9.00" font-weight="bold" text-anchor="start" fill="#111" >300&#176;C-1h</text>
<line x1="442.0" y1="415.9" x2="463.0" y2="415.9" stroke="#a24cf2" stroke-width="1.6"/>
<text x="465.5" y="419.1" font-family='"Liberation Serif", serif' font-size="9.00" font-weight="bold" text-anchor="start" fill="#111" >400&#176;C-1h</text>
<line x1="442.0" y1="427.2" x2="463.0" y2="427.2" stroke="#3e7a2c" stroke-width="1.6"/>
<text x="465.5" y="430.4" font-family='"Liberation Serif", serif' font-size="9.00" font-weight="bold" text-anchor="start" fill="#111" >500&#176;C-1h</text>
<g fill="none" stroke-linejoin="round" stroke-linecap="round">
<path d="M56.50,334.00 C56.92,334.83 57.75,337.33 59.00,339.00 C60.25,340.67 61.25,341.88 64.00,344.00 C66.75,346.12 71.40,349.42 75.50,351.70 C79.60,353.98 84.97,355.43 88.60,357.70 C92.23,359.97 95.30,362.75 97.30,365.30 C99.30,367.85 99.57,369.72 100.60,373.00 C101.63,376.28 102.80,378.83 103.50,385.00 C104.20,391.17 104.50,400.57 104.80,410.00 C105.10,419.43 105.12,439.93 105.30,441.60 C105.48,443.27 105.57,427.77 105.90,420.00 C106.23,412.23 106.62,401.33 107.30,395.00 C107.98,388.67 108.88,385.33 110.00,382.00 C111.12,378.67 112.17,377.25 114.00,375.00 C115.83,372.75 118.33,370.67 121.00,368.50 C123.67,366.33 126.70,363.80 130.00,362.00 C133.30,360.20 138.15,359.27 140.80,357.70 C143.45,356.13 144.18,354.30 145.90,352.60 C147.62,350.90 149.38,348.87 151.10,347.50 C152.82,346.13 154.72,345.10 156.20,344.40 C157.68,343.70 157.27,343.90 160.00,343.30 C162.73,342.70 168.53,341.80 172.60,340.80 C176.67,339.80 180.83,338.77 184.40,337.30 C187.97,335.83 191.07,334.05 194.00,332.00 C196.93,329.95 199.00,327.67 202.00,325.00 C205.00,322.33 208.67,319.50 212.00,316.00 C215.33,312.50 218.67,307.42 222.00,304.00 C225.33,300.58 230.33,296.92 232.00,295.50" stroke="#f6dcf2" stroke-width="4.5" opacity="0.5"/>
<path d="M55.50,333.50 C55.92,334.33 56.48,336.58 58.00,338.50 C59.52,340.42 61.32,343.17 64.60,345.00 C67.88,346.83 72.80,347.57 77.70,349.50 C82.60,351.43 89.82,353.97 94.00,356.60 C98.18,359.23 100.47,362.23 102.80,365.30 C105.13,368.37 106.63,370.88 108.00,375.00 C109.37,379.12 110.28,384.17 111.00,390.00 C111.72,395.83 112.03,401.03 112.30,410.00 C112.57,418.97 112.48,442.13 112.60,443.80 C112.72,445.47 112.77,427.30 113.00,420.00 C113.23,412.70 113.50,405.83 114.00,400.00 C114.50,394.17 115.17,389.67 116.00,385.00 C116.83,380.33 117.95,375.18 119.00,372.00 C120.05,368.82 120.72,367.60 122.30,365.90 C123.88,364.20 126.27,363.00 128.50,361.80 C130.73,360.60 133.82,359.72 135.70,358.70 C137.58,357.68 138.43,357.07 139.80,355.70 C141.17,354.33 142.53,352.05 143.90,350.50 C145.27,348.95 146.47,347.60 148.00,346.40 C149.53,345.20 151.10,344.15 153.10,343.30 C155.10,342.45 157.93,341.92 160.00,341.30 C162.07,340.68 162.62,340.47 165.50,339.60 C168.38,338.73 172.97,337.67 177.30,336.10 C181.63,334.53 187.57,332.37 191.50,330.20 C195.43,328.03 197.75,325.87 200.90,323.10 C204.05,320.33 207.25,317.15 210.40,313.60 C213.55,310.05 217.05,304.75 219.80,301.80 C222.55,298.85 225.72,296.88 226.90,295.90" stroke="#f6dcf2" stroke-width="4.5" opacity="0.5"/>
<path d="M57.20,332.60 C57.53,333.33 57.97,335.72 59.20,337.00 C60.43,338.28 62.23,339.30 64.60,340.30 C66.97,341.30 70.30,342.00 73.40,343.00 C76.50,344.00 80.30,345.30 83.20,346.30 C86.10,347.30 88.45,347.92 90.80,349.00 C93.15,350.08 95.12,350.80 97.30,352.80 C99.48,354.80 101.78,358.38 103.90,361.00 C106.02,363.62 108.32,365.83 110.00,368.50 C111.68,371.17 113.03,373.42 114.00,377.00 C114.97,380.58 115.38,384.50 115.80,390.00 C116.22,395.50 116.33,403.47 116.50,410.00 C116.67,416.53 116.70,429.20 116.80,429.20 C116.90,429.20 116.98,416.20 117.10,410.00 C117.22,403.80 117.30,396.67 117.50,392.00 C117.70,387.33 117.83,384.98 118.30,382.00 C118.77,379.02 119.12,376.78 120.30,374.10 C121.48,371.42 123.62,368.42 125.40,365.90 C127.18,363.38 129.07,361.32 131.00,359.00 C132.93,356.68 134.83,354.17 137.00,352.00 C139.17,349.83 141.23,347.67 144.00,346.00 C146.77,344.33 150.02,343.00 153.60,342.00 C157.18,341.00 161.55,340.83 165.50,340.00 C169.45,339.17 172.97,338.33 177.30,337.00 C181.63,335.67 187.57,333.92 191.50,332.00 C195.43,330.08 197.37,328.17 200.90,325.50 C204.43,322.83 208.75,319.95 212.70,316.00 C216.65,312.05 221.63,305.15 224.60,301.80 C227.57,298.45 229.52,296.88 230.50,295.90" stroke="#f6dcf2" stroke-width="4.5" opacity="0.5"/>
<path d="M60.30,332.10 C60.65,332.83 61.32,335.42 62.40,336.50 C63.48,337.58 64.62,337.78 66.80,338.60 C68.98,339.42 72.58,340.40 75.50,341.40 C78.42,342.40 81.75,343.52 84.30,344.60 C86.85,345.68 88.63,346.62 90.80,347.90 C92.97,349.18 95.12,350.30 97.30,352.30 C99.48,354.30 101.87,357.53 103.90,359.90 C105.93,362.27 108.02,364.15 109.50,366.50 C110.98,368.85 112.05,370.92 112.80,374.00 C113.55,377.08 113.73,380.67 114.00,385.00 C114.27,389.33 114.30,393.58 114.40,400.00 C114.50,406.42 114.52,423.50 114.60,423.50 C114.68,423.50 114.73,405.92 114.90,400.00 C115.07,394.08 115.25,391.33 115.60,388.00 C115.95,384.67 116.57,381.80 117.00,380.00 C117.43,378.20 117.48,378.87 118.20,377.20 C118.92,375.53 120.10,372.38 121.30,370.00 C122.50,367.62 123.87,365.12 125.40,362.90 C126.93,360.68 128.78,358.93 130.50,356.70 C132.22,354.47 133.98,351.38 135.70,349.50 C137.42,347.62 139.10,346.33 140.80,345.40 C142.50,344.47 143.77,344.55 145.90,343.90 C148.03,343.25 150.33,342.18 153.60,341.50 C156.87,340.82 161.55,340.58 165.50,339.80 C169.45,339.02 172.97,338.00 177.30,336.80 C181.63,335.60 186.77,334.48 191.50,332.60 C196.23,330.72 201.37,327.87 205.70,325.50 C210.03,323.13 213.57,321.57 217.50,318.40 C221.43,315.23 225.17,310.25 229.30,306.50 C233.43,302.75 239.85,297.88 242.30,295.90 C244.75,293.92 243.72,294.82 244.00,294.60" stroke="#f6dcf2" stroke-width="4.5" opacity="0.5"/>
<path d="M52.40,334.60 C52.80,335.37 53.67,337.80 54.80,339.20 C55.93,340.60 57.20,341.82 59.20,343.00 C61.20,344.18 63.72,345.12 66.80,346.30 C69.88,347.48 74.43,348.75 77.70,350.10 C80.97,351.45 83.85,352.95 86.40,354.40 C88.95,355.85 91.00,357.15 93.00,358.80 C95.00,360.45 96.77,362.12 98.40,364.30 C100.03,366.48 101.65,368.45 102.80,371.90 C103.95,375.35 104.68,378.65 105.30,385.00 C105.92,391.35 106.23,400.38 106.50,410.00 C106.77,419.62 106.75,441.03 106.90,442.70 C107.05,444.37 107.15,427.95 107.40,420.00 C107.65,412.05 108.00,401.67 108.40,395.00 C108.80,388.33 109.18,383.98 109.80,380.00 C110.42,376.02 111.03,373.27 112.10,371.10 C113.17,368.93 114.50,368.55 116.20,367.00 C117.90,365.45 120.42,363.52 122.30,361.80 C124.18,360.08 125.95,358.40 127.50,356.70 C129.05,355.00 130.23,353.32 131.60,351.60 C132.97,349.88 134.17,347.78 135.70,346.40 C137.23,345.02 139.10,343.98 140.80,343.30 C142.50,342.62 143.85,342.63 145.90,342.30 C147.95,341.97 150.75,341.63 153.10,341.30 C155.45,340.97 155.97,340.97 160.00,340.30 C164.03,339.63 172.05,338.40 177.30,337.30 C182.55,336.20 187.57,334.68 191.50,333.70 C195.43,332.72 196.97,332.97 200.90,331.40 C204.83,329.83 210.37,327.27 215.10,324.30 C219.83,321.33 224.57,316.95 229.30,313.60 C234.03,310.25 239.17,307.15 243.50,304.20 C247.83,301.25 253.05,297.47 255.30,295.90 C257.55,294.33 256.72,294.98 257.00,294.80" stroke="#f6dcf2" stroke-width="4.5" opacity="0.5"/>
<path d="M318.00,335.40 C318.45,336.40 319.15,339.95 320.70,341.40 C322.25,342.85 324.75,343.28 327.30,344.10 C329.85,344.92 333.47,345.67 336.00,346.30 C338.53,346.93 339.95,347.08 342.50,347.90 C345.05,348.72 348.38,349.75 351.30,351.20 C354.22,352.65 357.47,354.78 360.00,356.60 C362.53,358.42 364.68,360.47 366.50,362.10 C368.32,363.73 369.68,364.42 370.90,366.40 C372.12,368.38 373.02,370.73 373.80,374.00 C374.58,377.27 375.17,380.83 375.60,386.00 C376.03,391.17 376.22,396.67 376.40,405.00 C376.58,413.33 376.60,435.17 376.70,436.00 C376.80,436.83 376.82,417.67 377.00,410.00 C377.18,402.33 377.47,395.00 377.80,390.00 C378.13,385.00 378.27,382.62 379.00,380.00 C379.73,377.38 381.03,376.47 382.20,374.30 C383.37,372.13 384.63,369.23 386.00,367.00 C387.37,364.77 388.40,363.07 390.40,360.90 C392.40,358.73 395.43,356.22 398.00,354.00 C400.57,351.78 403.65,349.52 405.80,347.60 C407.95,345.68 409.18,343.62 410.90,342.50 C412.62,341.38 413.75,341.42 416.10,340.90 C418.45,340.38 421.47,340.25 425.00,339.40 C428.53,338.55 433.28,336.98 437.30,335.80 C441.32,334.62 445.17,333.67 449.10,332.30 C453.03,330.93 456.97,329.18 460.90,327.60 C464.83,326.02 468.75,325.17 472.70,322.80 C476.65,320.43 481.05,316.55 484.60,313.40 C488.15,310.25 491.45,306.67 494.00,303.90 C496.55,301.13 498.72,298.18 499.90,296.80 C501.08,295.42 500.90,295.80 501.10,295.60" stroke="#f6dcf2" stroke-width="4.5" opacity="0.5"/>
<path d="M318.50,329.90 C318.87,330.63 319.60,332.85 320.70,334.30 C321.80,335.75 323.28,337.52 325.10,338.60 C326.92,339.68 329.23,340.25 331.60,340.80 C333.97,341.35 336.57,341.35 339.30,341.90 C342.03,342.45 345.28,343.10 348.00,344.10 C350.72,345.10 353.23,346.35 355.60,347.90 C357.97,349.45 360.20,351.40 362.20,353.40 C364.20,355.40 366.05,357.63 367.60,359.90 C369.15,362.17 370.35,364.32 371.50,367.00 C372.65,369.68 373.75,372.17 374.50,376.00 C375.25,379.83 375.65,384.33 376.00,390.00 C376.35,395.67 376.47,402.00 376.60,410.00 C376.73,418.00 376.70,438.00 376.80,438.00 C376.90,438.00 377.03,418.00 377.20,410.00 C377.37,402.00 377.60,395.00 377.80,390.00 C378.00,385.00 378.18,382.62 378.40,380.00 C378.62,377.38 378.30,376.45 379.10,374.30 C379.90,372.15 381.48,369.33 383.20,367.10 C384.92,364.87 387.35,362.95 389.40,360.90 C391.45,358.85 393.62,357.02 395.50,354.80 C397.38,352.58 399.15,349.83 400.70,347.60 C402.25,345.37 403.43,342.85 404.80,341.40 C406.17,339.95 407.37,339.42 408.90,338.90 C410.43,338.38 412.12,338.48 414.00,338.30 C415.88,338.12 418.37,338.13 420.20,337.80 C422.03,337.47 422.15,337.35 425.00,336.30 C427.85,335.25 432.88,333.15 437.30,331.50 C441.72,329.85 447.57,327.85 451.50,326.40 C455.43,324.95 458.53,324.18 460.90,322.80 C463.27,321.42 464.12,320.65 465.70,318.10 C467.28,315.55 469.03,310.65 470.40,307.50 C471.77,304.35 472.92,301.18 473.90,299.20 C474.88,297.22 475.90,296.20 476.30,295.60" stroke="#f6dcf2" stroke-width="4.5" opacity="0.5"/>
<path d="M322.40,332.10 C322.85,332.92 323.75,335.63 325.10,337.00 C326.45,338.37 328.13,338.85 330.50,340.30 C332.87,341.75 336.93,344.35 339.30,345.70 C341.67,347.05 342.35,347.22 344.70,348.40 C347.05,349.58 350.85,351.25 353.40,352.80 C355.95,354.35 358.00,355.78 360.00,357.70 C362.00,359.62 363.95,362.12 365.40,364.30 C366.85,366.48 367.85,368.18 368.70,370.80 C369.55,373.42 370.05,375.97 370.50,380.00 C370.95,384.03 371.18,389.17 371.40,395.00 C371.62,400.83 371.72,408.37 371.80,415.00 C371.88,421.63 371.83,434.80 371.90,434.80 C371.97,434.80 372.08,421.40 372.20,415.00 C372.32,408.60 372.35,402.13 372.60,396.40 C372.85,390.67 372.95,385.15 373.70,380.60 C374.45,376.05 375.52,372.03 377.10,369.10 C378.68,366.17 380.98,364.62 383.20,363.00 C385.42,361.38 388.35,360.43 390.40,359.40 C392.45,358.37 393.62,358.25 395.50,356.80 C397.38,355.35 399.82,352.58 401.70,350.70 C403.58,348.82 405.27,346.87 406.80,345.50 C408.33,344.13 409.35,343.52 410.90,342.50 C412.45,341.48 414.38,340.43 416.10,339.40 C417.82,338.37 419.72,337.07 421.20,336.30 C422.68,335.53 421.53,335.87 425.00,334.80 C428.47,333.73 436.40,331.50 442.00,329.90 C447.60,328.30 453.87,327.17 458.60,325.20 C463.33,323.23 466.47,320.87 470.40,318.10 C474.33,315.33 479.05,311.37 482.20,308.60 C485.35,305.83 487.33,303.67 489.30,301.50 C491.27,299.33 493.22,296.58 494.00,295.60" stroke="#f6dcf2" stroke-width="4.5" opacity="0.5"/>
<path d="M321.80,331.50 C322.08,332.00 322.77,333.58 323.50,334.50 C324.23,335.42 324.48,335.95 326.20,337.00 C327.92,338.05 330.72,339.17 333.80,340.80 C336.88,342.43 341.43,344.97 344.70,346.80 C347.97,348.63 350.85,350.18 353.40,351.80 C355.95,353.42 357.90,354.63 360.00,356.50 C362.10,358.37 364.25,360.58 366.00,363.00 C367.75,365.42 369.25,368.17 370.50,371.00 C371.75,373.83 372.67,376.00 373.50,380.00 C374.33,384.00 374.98,389.17 375.50,395.00 C376.02,400.83 376.33,407.23 376.60,415.00 C376.87,422.77 376.98,440.77 377.10,441.60 C377.22,442.43 377.22,427.53 377.30,420.00 C377.38,412.47 377.33,402.97 377.60,396.40 C377.87,389.83 378.23,384.35 378.90,380.60 C379.57,376.85 380.22,376.53 381.60,373.90 C382.98,371.27 385.32,367.07 387.20,364.80 C389.08,362.53 391.10,361.68 392.90,360.30 C394.70,358.92 396.40,358.05 398.00,356.50 C399.60,354.95 401.03,352.67 402.50,351.00 C403.97,349.33 405.38,347.83 406.80,346.50 C408.22,345.17 409.13,344.17 411.00,343.00 C412.87,341.83 415.67,340.67 418.00,339.50 C420.33,338.33 421.00,337.50 425.00,336.00 C429.00,334.50 436.80,332.30 442.00,330.50 C447.20,328.70 452.25,327.27 456.20,325.20 C460.15,323.13 462.55,320.87 465.70,318.10 C468.85,315.33 472.35,311.37 475.10,308.60 C477.85,305.83 480.23,303.67 482.20,301.50 C484.17,299.33 486.12,296.58 486.90,295.60" stroke="#f6dcf2" stroke-width="4.5" opacity="0.5"/>
<path d="M314.20,339.70 C314.92,340.15 316.68,341.40 318.50,342.40 C320.32,343.40 322.55,344.60 325.10,345.70 C327.65,346.80 331.08,347.90 333.80,349.00 C336.52,350.10 339.03,351.03 341.40,352.30 C343.77,353.57 346.00,354.78 348.00,356.60 C350.00,358.42 351.95,361.02 353.40,363.20 C354.85,365.38 355.83,367.57 356.70,369.70 C357.57,371.83 358.08,373.45 358.60,376.00 C359.12,378.55 359.48,381.33 359.80,385.00 C360.12,388.67 360.33,392.33 360.50,398.00 C360.67,403.67 360.67,419.00 360.80,419.00 C360.93,419.00 361.07,404.17 361.30,398.00 C361.53,391.83 361.68,386.33 362.20,382.00 C362.72,377.67 363.05,375.05 364.40,372.00 C365.75,368.95 368.53,365.63 370.30,363.70 C372.07,361.77 373.37,361.55 375.00,360.40 C376.63,359.25 378.38,358.33 380.10,356.80 C381.82,355.27 383.75,353.25 385.30,351.20 C386.85,349.15 388.03,346.82 389.40,344.50 C390.77,342.18 392.30,338.92 393.50,337.30 C394.70,335.68 395.23,335.32 396.60,334.80 C397.97,334.28 399.32,334.47 401.70,334.20 C404.08,333.93 407.02,333.53 410.90,333.20 C414.78,332.87 420.60,332.75 425.00,332.20 C429.40,331.65 433.28,330.67 437.30,329.90 C441.32,329.13 445.55,328.38 449.10,327.60 C452.65,326.82 455.83,326.38 458.60,325.20 C461.37,324.02 462.95,322.67 465.70,320.50 C468.45,318.33 471.95,314.97 475.10,312.20 C478.25,309.43 481.83,306.27 484.60,303.90 C487.37,301.53 489.93,299.38 491.70,298.00 C493.47,296.62 494.62,296.00 495.20,295.60" stroke="#f6dcf2" stroke-width="4.5" opacity="0.5"/>
<path d="M56.50,334.00 C56.92,334.83 57.75,337.33 59.00,339.00 C60.25,340.67 61.25,341.88 64.00,344.00 C66.75,346.12 71.40,349.42 75.50,351.70 C79.60,353.98 84.97,355.43 88.60,357.70 C92.23,359.97 95.30,362.75 97.30,365.30 C99.30,367.85 99.57,369.72 100.60,373.00 C101.63,376.28 102.80,378.83 103.50,385.00 C104.20,391.17 104.50,400.57 104.80,410.00 C105.10,419.43 105.12,439.93 105.30,441.60 C105.48,443.27 105.57,427.77 105.90,420.00 C106.23,412.23 106.62,401.33 107.30,395.00 C107.98,388.67 108.88,385.33 110.00,382.00 C111.12,378.67 112.17,377.25 114.00,375.00 C115.83,372.75 118.33,370.67 121.00,368.50 C123.67,366.33 126.70,363.80 130.00,362.00 C133.30,360.20 138.15,359.27 140.80,357.70 C143.45,356.13 144.18,354.30 145.90,352.60 C147.62,350.90 149.38,348.87 151.10,347.50 C152.82,346.13 154.72,345.10 156.20,344.40 C157.68,343.70 157.27,343.90 160.00,343.30 C162.73,342.70 168.53,341.80 172.60,340.80 C176.67,339.80 180.83,338.77 184.40,337.30 C187.97,335.83 191.07,334.05 194.00,332.00 C196.93,329.95 199.00,327.67 202.00,325.00 C205.00,322.33 208.67,319.50 212.00,316.00 C215.33,312.50 218.67,307.42 222.00,304.00 C225.33,300.58 230.33,296.92 232.00,295.50" stroke="#9a6038" stroke-width="1.6"/>
<path d="M55.50,333.50 C55.92,334.33 56.48,336.58 58.00,338.50 C59.52,340.42 61.32,343.17 64.60,345.00 C67.88,346.83 72.80,347.57 77.70,349.50 C82.60,351.43 89.82,353.97 94.00,356.60 C98.18,359.23 100.47,362.23 102.80,365.30 C105.13,368.37 106.63,370.88 108.00,375.00 C109.37,379.12 110.28,384.17 111.00,390.00 C111.72,395.83 112.03,401.03 112.30,410.00 C112.57,418.97 112.48,442.13 112.60,443.80 C112.72,445.47 112.77,427.30 113.00,420.00 C113.23,412.70 113.50,405.83 114.00,400.00 C114.50,394.17 115.17,389.67 116.00,385.00 C116.83,380.33 117.95,375.18 119.00,372.00 C120.05,368.82 120.72,367.60 122.30,365.90 C123.88,364.20 126.27,363.00 128.50,361.80 C130.73,360.60 133.82,359.72 135.70,358.70 C137.58,357.68 138.43,357.07 139.80,355.70 C141.17,354.33 142.53,352.05 143.90,350.50 C145.27,348.95 146.47,347.60 148.00,346.40 C149.53,345.20 151.10,344.15 153.10,343.30 C155.10,342.45 157.93,341.92 160.00,341.30 C162.07,340.68 162.62,340.47 165.50,339.60 C168.38,338.73 172.97,337.67 177.30,336.10 C181.63,334.53 187.57,332.37 191.50,330.20 C195.43,328.03 197.75,325.87 200.90,323.10 C204.05,320.33 207.25,317.15 210.40,313.60 C213.55,310.05 217.05,304.75 219.80,301.80 C222.55,298.85 225.72,296.88 226.90,295.90" stroke="#a24cf2" stroke-width="1.6"/>
<path d="M57.20,332.60 C57.53,333.33 57.97,335.72 59.20,337.00 C60.43,338.28 62.23,339.30 64.60,340.30 C66.97,341.30 70.30,342.00 73.40,343.00 C76.50,344.00 80.30,345.30 83.20,346.30 C86.10,347.30 88.45,347.92 90.80,349.00 C93.15,350.08 95.12,350.80 97.30,352.80 C99.48,354.80 101.78,358.38 103.90,361.00 C106.02,363.62 108.32,365.83 110.00,368.50 C111.68,371.17 113.03,373.42 114.00,377.00 C114.97,380.58 115.38,384.50 115.80,390.00 C116.22,395.50 116.33,403.47 116.50,410.00 C116.67,416.53 116.70,429.20 116.80,429.20 C116.90,429.20 116.98,416.20 117.10,410.00 C117.22,403.80 117.30,396.67 117.50,392.00 C117.70,387.33 117.83,384.98 118.30,382.00 C118.77,379.02 119.12,376.78 120.30,374.10 C121.48,371.42 123.62,368.42 125.40,365.90 C127.18,363.38 129.07,361.32 131.00,359.00 C132.93,356.68 134.83,354.17 137.00,352.00 C139.17,349.83 141.23,347.67 144.00,346.00 C146.77,344.33 150.02,343.00 153.60,342.00 C157.18,341.00 161.55,340.83 165.50,340.00 C169.45,339.17 172.97,338.33 177.30,337.00 C181.63,335.67 187.57,333.92 191.50,332.00 C195.43,330.08 197.37,328.17 200.90,325.50 C204.43,322.83 208.75,319.95 212.70,316.00 C216.65,312.05 221.63,305.15 224.60,301.80 C227.57,298.45 229.52,296.88 230.50,295.90" stroke="#3e7a2c" stroke-width="1.6"/>
<path d="M60.30,332.10 C60.65,332.83 61.32,335.42 62.40,336.50 C63.48,337.58 64.62,337.78 66.80,338.60 C68.98,339.42 72.58,340.40 75.50,341.40 C78.42,342.40 81.75,343.52 84.30,344.60 C86.85,345.68 88.63,346.62 90.80,347.90 C92.97,349.18 95.12,350.30 97.30,352.30 C99.48,354.30 101.87,357.53 103.90,359.90 C105.93,362.27 108.02,364.15 109.50,366.50 C110.98,368.85 112.05,370.92 112.80,374.00 C113.55,377.08 113.73,380.67 114.00,385.00 C114.27,389.33 114.30,393.58 114.40,400.00 C114.50,406.42 114.52,423.50 114.60,423.50 C114.68,423.50 114.73,405.92 114.90,400.00 C115.07,394.08 115.25,391.33 115.60,388.00 C115.95,384.67 116.57,381.80 117.00,380.00 C117.43,378.20 117.48,378.87 118.20,377.20 C118.92,375.53 120.10,372.38 121.30,370.00 C122.50,367.62 123.87,365.12 125.40,362.90 C126.93,360.68 128.78,358.93 130.50,356.70 C132.22,354.47 133.98,351.38 135.70,349.50 C137.42,347.62 139.10,346.33 140.80,345.40 C142.50,344.47 143.77,344.55 145.90,343.90 C148.03,343.25 150.33,342.18 153.60,341.50 C156.87,340.82 161.55,340.58 165.50,339.80 C169.45,339.02 172.97,338.00 177.30,336.80 C181.63,335.60 186.77,334.48 191.50,332.60 C196.23,330.72 201.37,327.87 205.70,325.50 C210.03,323.13 213.57,321.57 217.50,318.40 C221.43,315.23 225.17,310.25 229.30,306.50 C233.43,302.75 239.85,297.88 242.30,295.90 C244.75,293.92 243.72,294.82 244.00,294.60" stroke="#1c1c1c" stroke-width="1.6"/>
<path d="M52.40,334.60 C52.80,335.37 53.67,337.80 54.80,339.20 C55.93,340.60 57.20,341.82 59.20,343.00 C61.20,344.18 63.72,345.12 66.80,346.30 C69.88,347.48 74.43,348.75 77.70,350.10 C80.97,351.45 83.85,352.95 86.40,354.40 C88.95,355.85 91.00,357.15 93.00,358.80 C95.00,360.45 96.77,362.12 98.40,364.30 C100.03,366.48 101.65,368.45 102.80,371.90 C103.95,375.35 104.68,378.65 105.30,385.00 C105.92,391.35 106.23,400.38 106.50,410.00 C106.77,419.62 106.75,441.03 106.90,442.70 C107.05,444.37 107.15,427.95 107.40,420.00 C107.65,412.05 108.00,401.67 108.40,395.00 C108.80,388.33 109.18,383.98 109.80,380.00 C110.42,376.02 111.03,373.27 112.10,371.10 C113.17,368.93 114.50,368.55 116.20,367.00 C117.90,365.45 120.42,363.52 122.30,361.80 C124.18,360.08 125.95,358.40 127.50,356.70 C129.05,355.00 130.23,353.32 131.60,351.60 C132.97,349.88 134.17,347.78 135.70,346.40 C137.23,345.02 139.10,343.98 140.80,343.30 C142.50,342.62 143.85,342.63 145.90,342.30 C147.95,341.97 150.75,341.63 153.10,341.30 C155.45,340.97 155.97,340.97 160.00,340.30 C164.03,339.63 172.05,338.40 177.30,337.30 C182.55,336.20 187.57,334.68 191.50,333.70 C195.43,332.72 196.97,332.97 200.90,331.40 C204.83,329.83 210.37,327.27 215.10,324.30 C219.83,321.33 224.57,316.95 229.30,313.60 C234.03,310.25 239.17,307.15 243.50,304.20 C247.83,301.25 253.05,297.47 255.30,295.90 C257.55,294.33 256.72,294.98 257.00,294.80" stroke="#2a22c8" stroke-width="1.6"/>
<path d="M318.00,335.40 C318.45,336.40 319.15,339.95 320.70,341.40 C322.25,342.85 324.75,343.28 327.30,344.10 C329.85,344.92 333.47,345.67 336.00,346.30 C338.53,346.93 339.95,347.08 342.50,347.90 C345.05,348.72 348.38,349.75 351.30,351.20 C354.22,352.65 357.47,354.78 360.00,356.60 C362.53,358.42 364.68,360.47 366.50,362.10 C368.32,363.73 369.68,364.42 370.90,366.40 C372.12,368.38 373.02,370.73 373.80,374.00 C374.58,377.27 375.17,380.83 375.60,386.00 C376.03,391.17 376.22,396.67 376.40,405.00 C376.58,413.33 376.60,435.17 376.70,436.00 C376.80,436.83 376.82,417.67 377.00,410.00 C377.18,402.33 377.47,395.00 377.80,390.00 C378.13,385.00 378.27,382.62 379.00,380.00 C379.73,377.38 381.03,376.47 382.20,374.30 C383.37,372.13 384.63,369.23 386.00,367.00 C387.37,364.77 388.40,363.07 390.40,360.90 C392.40,358.73 395.43,356.22 398.00,354.00 C400.57,351.78 403.65,349.52 405.80,347.60 C407.95,345.68 409.18,343.62 410.90,342.50 C412.62,341.38 413.75,341.42 416.10,340.90 C418.45,340.38 421.47,340.25 425.00,339.40 C428.53,338.55 433.28,336.98 437.30,335.80 C441.32,334.62 445.17,333.67 449.10,332.30 C453.03,330.93 456.97,329.18 460.90,327.60 C464.83,326.02 468.75,325.17 472.70,322.80 C476.65,320.43 481.05,316.55 484.60,313.40 C488.15,310.25 491.45,306.67 494.00,303.90 C496.55,301.13 498.72,298.18 499.90,296.80 C501.08,295.42 500.90,295.80 501.10,295.60" stroke="#2a22c8" stroke-width="1.6"/>
<path d="M318.50,329.90 C318.87,330.63 319.60,332.85 320.70,334.30 C321.80,335.75 323.28,337.52 325.10,338.60 C326.92,339.68 329.23,340.25 331.60,340.80 C333.97,341.35 336.57,341.35 339.30,341.90 C342.03,342.45 345.28,343.10 348.00,344.10 C350.72,345.10 353.23,346.35 355.60,347.90 C357.97,349.45 360.20,351.40 362.20,353.40 C364.20,355.40 366.05,357.63 367.60,359.90 C369.15,362.17 370.35,364.32 371.50,367.00 C372.65,369.68 373.75,372.17 374.50,376.00 C375.25,379.83 375.65,384.33 376.00,390.00 C376.35,395.67 376.47,402.00 376.60,410.00 C376.73,418.00 376.70,438.00 376.80,438.00 C376.90,438.00 377.03,418.00 377.20,410.00 C377.37,402.00 377.60,395.00 377.80,390.00 C378.00,385.00 378.18,382.62 378.40,380.00 C378.62,377.38 378.30,376.45 379.10,374.30 C379.90,372.15 381.48,369.33 383.20,367.10 C384.92,364.87 387.35,362.95 389.40,360.90 C391.45,358.85 393.62,357.02 395.50,354.80 C397.38,352.58 399.15,349.83 400.70,347.60 C402.25,345.37 403.43,342.85 404.80,341.40 C406.17,339.95 407.37,339.42 408.90,338.90 C410.43,338.38 412.12,338.48 414.00,338.30 C415.88,338.12 418.37,338.13 420.20,337.80 C422.03,337.47 422.15,337.35 425.00,336.30 C427.85,335.25 432.88,333.15 437.30,331.50 C441.72,329.85 447.57,327.85 451.50,326.40 C455.43,324.95 458.53,324.18 460.90,322.80 C463.27,321.42 464.12,320.65 465.70,318.10 C467.28,315.55 469.03,310.65 470.40,307.50 C471.77,304.35 472.92,301.18 473.90,299.20 C474.88,297.22 475.90,296.20 476.30,295.60" stroke="#a24cf2" stroke-width="1.6"/>
<path d="M322.40,332.10 C322.85,332.92 323.75,335.63 325.10,337.00 C326.45,338.37 328.13,338.85 330.50,340.30 C332.87,341.75 336.93,344.35 339.30,345.70 C341.67,347.05 342.35,347.22 344.70,348.40 C347.05,349.58 350.85,351.25 353.40,352.80 C355.95,354.35 358.00,355.78 360.00,357.70 C362.00,359.62 363.95,362.12 365.40,364.30 C366.85,366.48 367.85,368.18 368.70,370.80 C369.55,373.42 370.05,375.97 370.50,380.00 C370.95,384.03 371.18,389.17 371.40,395.00 C371.62,400.83 371.72,408.37 371.80,415.00 C371.88,421.63 371.83,434.80 371.90,434.80 C371.97,434.80 372.08,421.40 372.20,415.00 C372.32,408.60 372.35,402.13 372.60,396.40 C372.85,390.67 372.95,385.15 373.70,380.60 C374.45,376.05 375.52,372.03 377.10,369.10 C378.68,366.17 380.98,364.62 383.20,363.00 C385.42,361.38 388.35,360.43 390.40,359.40 C392.45,358.37 393.62,358.25 395.50,356.80 C397.38,355.35 399.82,352.58 401.70,350.70 C403.58,348.82 405.27,346.87 406.80,345.50 C408.33,344.13 409.35,343.52 410.90,342.50 C412.45,341.48 414.38,340.43 416.10,339.40 C417.82,338.37 419.72,337.07 421.20,336.30 C422.68,335.53 421.53,335.87 425.00,334.80 C428.47,333.73 436.40,331.50 442.00,329.90 C447.60,328.30 453.87,327.17 458.60,325.20 C463.33,323.23 466.47,320.87 470.40,318.10 C474.33,315.33 479.05,311.37 482.20,308.60 C485.35,305.83 487.33,303.67 489.30,301.50 C491.27,299.33 493.22,296.58 494.00,295.60" stroke="#9a6038" stroke-width="1.6"/>
<path d="M321.80,331.50 C322.08,332.00 322.77,333.58 323.50,334.50 C324.23,335.42 324.48,335.95 326.20,337.00 C327.92,338.05 330.72,339.17 333.80,340.80 C336.88,342.43 341.43,344.97 344.70,346.80 C347.97,348.63 350.85,350.18 353.40,351.80 C355.95,353.42 357.90,354.63 360.00,356.50 C362.10,358.37 364.25,360.58 366.00,363.00 C367.75,365.42 369.25,368.17 370.50,371.00 C371.75,373.83 372.67,376.00 373.50,380.00 C374.33,384.00 374.98,389.17 375.50,395.00 C376.02,400.83 376.33,407.23 376.60,415.00 C376.87,422.77 376.98,440.77 377.10,441.60 C377.22,442.43 377.22,427.53 377.30,420.00 C377.38,412.47 377.33,402.97 377.60,396.40 C377.87,389.83 378.23,384.35 378.90,380.60 C379.57,376.85 380.22,376.53 381.60,373.90 C382.98,371.27 385.32,367.07 387.20,364.80 C389.08,362.53 391.10,361.68 392.90,360.30 C394.70,358.92 396.40,358.05 398.00,356.50 C399.60,354.95 401.03,352.67 402.50,351.00 C403.97,349.33 405.38,347.83 406.80,346.50 C408.22,345.17 409.13,344.17 411.00,343.00 C412.87,341.83 415.67,340.67 418.00,339.50 C420.33,338.33 421.00,337.50 425.00,336.00 C429.00,334.50 436.80,332.30 442.00,330.50 C447.20,328.70 452.25,327.27 456.20,325.20 C460.15,323.13 462.55,320.87 465.70,318.10 C468.85,315.33 472.35,311.37 475.10,308.60 C477.85,305.83 480.23,303.67 482.20,301.50 C484.17,299.33 486.12,296.58 486.90,295.60" stroke="#3e7a2c" stroke-width="1.6"/>
<path d="M314.20,339.70 C314.92,340.15 316.68,341.40 318.50,342.40 C320.32,343.40 322.55,344.60 325.10,345.70 C327.65,346.80 331.08,347.90 333.80,349.00 C336.52,350.10 339.03,351.03 341.40,352.30 C343.77,353.57 346.00,354.78 348.00,356.60 C350.00,358.42 351.95,361.02 353.40,363.20 C354.85,365.38 355.83,367.57 356.70,369.70 C357.57,371.83 358.08,373.45 358.60,376.00 C359.12,378.55 359.48,381.33 359.80,385.00 C360.12,388.67 360.33,392.33 360.50,398.00 C360.67,403.67 360.67,419.00 360.80,419.00 C360.93,419.00 361.07,404.17 361.30,398.00 C361.53,391.83 361.68,386.33 362.20,382.00 C362.72,377.67 363.05,375.05 364.40,372.00 C365.75,368.95 368.53,365.63 370.30,363.70 C372.07,361.77 373.37,361.55 375.00,360.40 C376.63,359.25 378.38,358.33 380.10,356.80 C381.82,355.27 383.75,353.25 385.30,351.20 C386.85,349.15 388.03,346.82 389.40,344.50 C390.77,342.18 392.30,338.92 393.50,337.30 C394.70,335.68 395.23,335.32 396.60,334.80 C397.97,334.28 399.32,334.47 401.70,334.20 C404.08,333.93 407.02,333.53 410.90,333.20 C414.78,332.87 420.60,332.75 425.00,332.20 C429.40,331.65 433.28,330.67 437.30,329.90 C441.32,329.13 445.55,328.38 449.10,327.60 C452.65,326.82 455.83,326.38 458.60,325.20 C461.37,324.02 462.95,322.67 465.70,320.50 C468.45,318.33 471.95,314.97 475.10,312.20 C478.25,309.43 481.83,306.27 484.60,303.90 C487.37,301.53 489.93,299.38 491.70,298.00 C493.47,296.62 494.62,296.00 495.20,295.60" stroke="#1c1c1c" stroke-width="1.6"/>
<path d="M350.10,154.00 C353.42,154.00 362.35,154.03 370.00,154.00 C377.65,153.97 388.50,153.97 396.00,153.80 C403.50,153.63 408.87,153.57 415.00,153.00 C421.13,152.43 427.65,151.73 432.80,150.40 C437.95,149.07 442.27,147.37 445.90,145.00 C449.53,142.63 452.33,139.53 454.60,136.20 C456.87,132.87 458.33,128.48 459.50,125.00 C460.67,121.52 460.73,118.97 461.60,115.30 C462.47,111.63 463.95,107.78 464.70,103.00 C465.45,98.22 465.77,91.67 466.10,86.60 C466.43,81.53 466.38,75.00 466.70,72.60 C467.02,70.20 467.78,72.27 468.00,72.20" stroke="#f6dcf2" stroke-width="5" opacity="0.5"/>
<path d="M396.00,153.90 C398.33,154.02 405.70,154.27 410.00,154.60 C414.30,154.93 416.18,154.60 421.80,155.90 C427.42,157.20 437.87,160.12 443.70,162.40 C449.53,164.68 452.43,167.08 456.80,169.60 C461.17,172.12 466.12,175.23 469.90,177.50 C473.68,179.77 475.85,181.68 479.50,183.20 C483.15,184.72 487.32,185.77 491.80,186.60 C496.28,187.43 503.97,187.93 506.40,188.20" stroke="#f6dcf2" stroke-width="5" opacity="0.5"/>
<path d="M351.70,141.30 C356.42,141.30 368.95,141.28 380.00,141.30 C391.05,141.32 408.83,141.37 418.00,141.40 C427.17,141.43 430.00,141.27 435.00,141.50 C440.00,141.73 443.28,141.68 448.00,142.80 C452.72,143.92 458.57,146.02 463.30,148.20 C468.03,150.38 472.40,153.67 476.40,155.90 C480.40,158.13 483.70,159.88 487.30,161.60 C490.90,163.32 495.05,165.07 498.00,166.20 C500.95,167.33 502.60,167.88 505.00,168.40 C507.40,168.92 511.17,169.15 512.40,169.30" stroke="#f6dcf2" stroke-width="5" opacity="0.5"/>
<path d="M440.00,141.20 C442.07,140.92 449.23,140.70 452.40,139.50 C455.57,138.30 456.82,136.18 459.00,134.00 C461.18,131.82 463.68,129.30 465.50,126.40 C467.32,123.50 468.82,119.67 469.90,116.60 C470.98,113.53 471.32,111.28 472.00,108.00 C472.68,104.72 473.33,101.15 474.00,96.90 C474.67,92.65 475.50,87.65 476.00,82.50 C476.50,77.35 476.90,70.80 477.00,66.00 C477.10,61.20 476.67,55.75 476.60,53.70" stroke="#f6dcf2" stroke-width="5" opacity="0.5"/>
<path d="M373.50,134.60 C377.08,134.58 388.42,134.57 395.00,134.50 C401.58,134.43 406.70,135.00 413.00,134.20 C419.30,133.40 426.97,131.47 432.80,129.70 C438.63,127.93 443.80,126.05 448.00,123.60 C452.20,121.15 455.42,117.60 458.00,115.00 C460.58,112.40 462.00,110.50 463.50,108.00 C465.00,105.50 465.60,103.22 467.00,100.00 C468.40,96.78 470.40,92.98 471.90,88.70 C473.40,84.42 475.15,78.75 476.00,74.30 C476.85,69.85 476.83,64.05 477.00,62.00" stroke="#f6dcf2" stroke-width="5" opacity="0.5"/>
<path d="M413.00,134.40 C415.57,134.70 423.28,134.98 428.40,136.20 C433.52,137.42 438.97,139.33 443.70,141.70 C448.43,144.07 452.80,146.95 456.80,150.40 C460.80,153.85 464.43,158.77 467.70,162.40 C470.97,166.03 474.18,169.97 476.40,172.20 C478.62,174.43 479.37,174.88 481.00,175.80 C482.63,176.72 485.33,177.38 486.20,177.70" stroke="#f6dcf2" stroke-width="5" opacity="0.5"/>
<path d="M331.50,101.30 C336.43,101.30 354.12,101.37 361.10,101.30 C368.08,101.23 369.30,101.10 373.40,100.90 C377.50,100.70 382.10,100.40 385.70,100.10 C389.30,99.80 392.23,99.53 395.00,99.10 C397.77,98.67 399.88,98.13 402.30,97.50 C404.72,96.87 407.08,96.15 409.50,95.30 C411.92,94.45 414.37,93.62 416.80,92.40 C419.23,91.18 421.67,89.58 424.10,88.00 C426.53,86.42 429.33,84.73 431.40,82.90 C433.47,81.07 434.82,79.65 436.50,77.00 C438.18,74.35 440.00,70.33 441.50,67.00 C443.00,63.67 444.45,60.17 445.50,57.00 C446.55,53.83 447.18,51.30 447.80,48.00 C448.42,44.70 448.97,39.00 449.20,37.20" stroke="#f6dcf2" stroke-width="5" opacity="0.5"/>
<path d="M361.10,101.30 C363.15,101.33 368.62,101.15 373.40,101.50 C378.18,101.85 385.02,102.75 389.80,103.40 C394.58,104.05 397.98,104.58 402.10,105.40 C406.22,106.22 410.73,106.93 414.50,108.30 C418.27,109.67 421.63,111.20 424.70,113.60 C427.77,116.00 430.50,119.48 432.90,122.70 C435.30,125.92 437.03,129.48 439.10,132.90 C441.17,136.32 443.25,140.45 445.30,143.20 C447.35,145.95 449.35,147.90 451.40,149.40 C453.45,150.90 456.57,151.73 457.60,152.20" stroke="#f6dcf2" stroke-width="5" opacity="0.5"/>
<path d="M350.10,154.00 C353.42,154.00 362.35,154.03 370.00,154.00 C377.65,153.97 388.50,153.97 396.00,153.80 C403.50,153.63 408.87,153.57 415.00,153.00 C421.13,152.43 427.65,151.73 432.80,150.40 C437.95,149.07 442.27,147.37 445.90,145.00 C449.53,142.63 452.33,139.53 454.60,136.20 C456.87,132.87 458.33,128.48 459.50,125.00 C460.67,121.52 460.73,118.97 461.60,115.30 C462.47,111.63 463.95,107.78 464.70,103.00 C465.45,98.22 465.77,91.67 466.10,86.60 C466.43,81.53 466.38,75.00 466.70,72.60 C467.02,70.20 467.78,72.27 468.00,72.20" stroke="#b44e90" stroke-width="2.4"/>
<path d="M396.00,153.90 C398.33,154.02 405.70,154.27 410.00,154.60 C414.30,154.93 416.18,154.60 421.80,155.90 C427.42,157.20 437.87,160.12 443.70,162.40 C449.53,164.68 452.43,167.08 456.80,169.60 C461.17,172.12 466.12,175.23 469.90,177.50 C473.68,179.77 475.85,181.68 479.50,183.20 C483.15,184.72 487.32,185.77 491.80,186.60 C496.28,187.43 503.97,187.93 506.40,188.20" stroke="#b44e90" stroke-width="2.4"/>
<path d="M351.70,141.30 C356.42,141.30 368.95,141.28 380.00,141.30 C391.05,141.32 408.83,141.37 418.00,141.40 C427.17,141.43 430.00,141.27 435.00,141.50 C440.00,141.73 443.28,141.68 448.00,142.80 C452.72,143.92 458.57,146.02 463.30,148.20 C468.03,150.38 472.40,153.67 476.40,155.90 C480.40,158.13 483.70,159.88 487.30,161.60 C490.90,163.32 495.05,165.07 498.00,166.20 C500.95,167.33 502.60,167.88 505.00,168.40 C507.40,168.92 511.17,169.15 512.40,169.30" stroke="#2f701e" stroke-width="2.4"/>
<path d="M440.00,141.20 C442.07,140.92 449.23,140.70 452.40,139.50 C455.57,138.30 456.82,136.18 459.00,134.00 C461.18,131.82 463.68,129.30 465.50,126.40 C467.32,123.50 468.82,119.67 469.90,116.60 C470.98,113.53 471.32,111.28 472.00,108.00 C472.68,104.72 473.33,101.15 474.00,96.90 C474.67,92.65 475.50,87.65 476.00,82.50 C476.50,77.35 476.90,70.80 477.00,66.00 C477.10,61.20 476.67,55.75 476.60,53.70" stroke="#2f701e" stroke-width="2.4"/>
<path d="M373.50,134.60 C377.08,134.58 388.42,134.57 395.00,134.50 C401.58,134.43 406.70,135.00 413.00,134.20 C419.30,133.40 426.97,131.47 432.80,129.70 C438.63,127.93 443.80,126.05 448.00,123.60 C452.20,121.15 455.42,117.60 458.00,115.00 C460.58,112.40 462.00,110.50 463.50,108.00 C465.00,105.50 465.60,103.22 467.00,100.00 C468.40,96.78 470.40,92.98 471.90,88.70 C473.40,84.42 475.15,78.75 476.00,74.30 C476.85,69.85 476.83,64.05 477.00,62.00" stroke="#3e1c7a" stroke-width="2.4"/>
<path d="M413.00,134.40 C415.57,134.70 423.28,134.98 428.40,136.20 C433.52,137.42 438.97,139.33 443.70,141.70 C448.43,144.07 452.80,146.95 456.80,150.40 C460.80,153.85 464.43,158.77 467.70,162.40 C470.97,166.03 474.18,169.97 476.40,172.20 C478.62,174.43 479.37,174.88 481.00,175.80 C482.63,176.72 485.33,177.38 486.20,177.70" stroke="#3e1c7a" stroke-width="2.4"/>
<path d="M331.50,101.30 C336.43,101.30 354.12,101.37 361.10,101.30 C368.08,101.23 369.30,101.10 373.40,100.90 C377.50,100.70 382.10,100.40 385.70,100.10 C389.30,99.80 392.23,99.53 395.00,99.10 C397.77,98.67 399.88,98.13 402.30,97.50 C404.72,96.87 407.08,96.15 409.50,95.30 C411.92,94.45 414.37,93.62 416.80,92.40 C419.23,91.18 421.67,89.58 424.10,88.00 C426.53,86.42 429.33,84.73 431.40,82.90 C433.47,81.07 434.82,79.65 436.50,77.00 C438.18,74.35 440.00,70.33 441.50,67.00 C443.00,63.67 444.45,60.17 445.50,57.00 C446.55,53.83 447.18,51.30 447.80,48.00 C448.42,44.70 448.97,39.00 449.20,37.20" stroke="#5018d0" stroke-width="2.4"/>
<path d="M361.10,101.30 C363.15,101.33 368.62,101.15 373.40,101.50 C378.18,101.85 385.02,102.75 389.80,103.40 C394.58,104.05 397.98,104.58 402.10,105.40 C406.22,106.22 410.73,106.93 414.50,108.30 C418.27,109.67 421.63,111.20 424.70,113.60 C427.77,116.00 430.50,119.48 432.90,122.70 C435.30,125.92 437.03,129.48 439.10,132.90 C441.17,136.32 443.25,140.45 445.30,143.20 C447.35,145.95 449.35,147.90 451.40,149.40 C453.45,150.90 456.57,151.73 457.60,152.20" stroke="#6a4ad8" stroke-width="2.4"/>
</g>
<line x1="350.1" y1="152.0" x2="350.1" y2="156.0" stroke="#b44e90" stroke-width="1.2"/>
<line x1="351.7" y1="139.3" x2="351.7" y2="143.3" stroke="#2f701e" stroke-width="1.2"/>
<line x1="373.5" y1="132.6" x2="373.5" y2="136.6" stroke="#3e1c7a" stroke-width="1.2"/>
<line x1="331.5" y1="99.3" x2="331.5" y2="103.3" stroke="#5018d0" stroke-width="1.2"/>
<rect x="321.1" y="26.1" width="55.7" height="53.2" fill="#fff" stroke="#555" stroke-width="1"/>
<line x1="325.9" y1="35.3" x2="344.1" y2="35.3" stroke="#2f701e" stroke-width="1.6"/>
<circle cx="335" cy="35.3" r="1" fill="#2f701e"/>
<text x="346.3" y="38.5" font-family='"Liberation Serif", serif' font-size="8.6" font-weight="bold" fill="#111">2Adm<tspan dy="-3.6" font-size="5.5">&#8722;2</tspan></text>
<line x1="325.9" y1="47.4" x2="344.1" y2="47.4" stroke="#5018d0" stroke-width="1.6"/>
<circle cx="335" cy="47.4" r="1" fill="#5018d0"/>
<text x="346.3" y="50.6" font-family='"Liberation Serif", serif' font-size="8.6" font-weight="bold" fill="#111">4Adm<tspan dy="-3.6" font-size="5.5">&#8722;2</tspan></text>
<line x1="325.9" y1="59.5" x2="344.1" y2="59.5" stroke="#b44e90" stroke-width="1.6"/>
<circle cx="335" cy="59.5" r="1" fill="#b44e90"/>
<text x="346.3" y="62.7" font-family='"Liberation Serif", serif' font-size="8.6" font-weight="bold" fill="#111">6Adm<tspan dy="-3.6" font-size="5.5">&#8722;2</tspan></text>
<line x1="325.9" y1="71.6" x2="344.1" y2="71.6" stroke="#3e1c7a" stroke-width="1.6"/>
<circle cx="335" cy="71.6" r="1" fill="#3e1c7a"/>
<text x="346.3" y="74.8" font-family='"Liberation Serif", serif' font-size="8.6" font-weight="bold" fill="#111">8Adm<tspan dy="-3.6" font-size="5.5">&#8722;2</tspan></text>
</svg></body></html>
